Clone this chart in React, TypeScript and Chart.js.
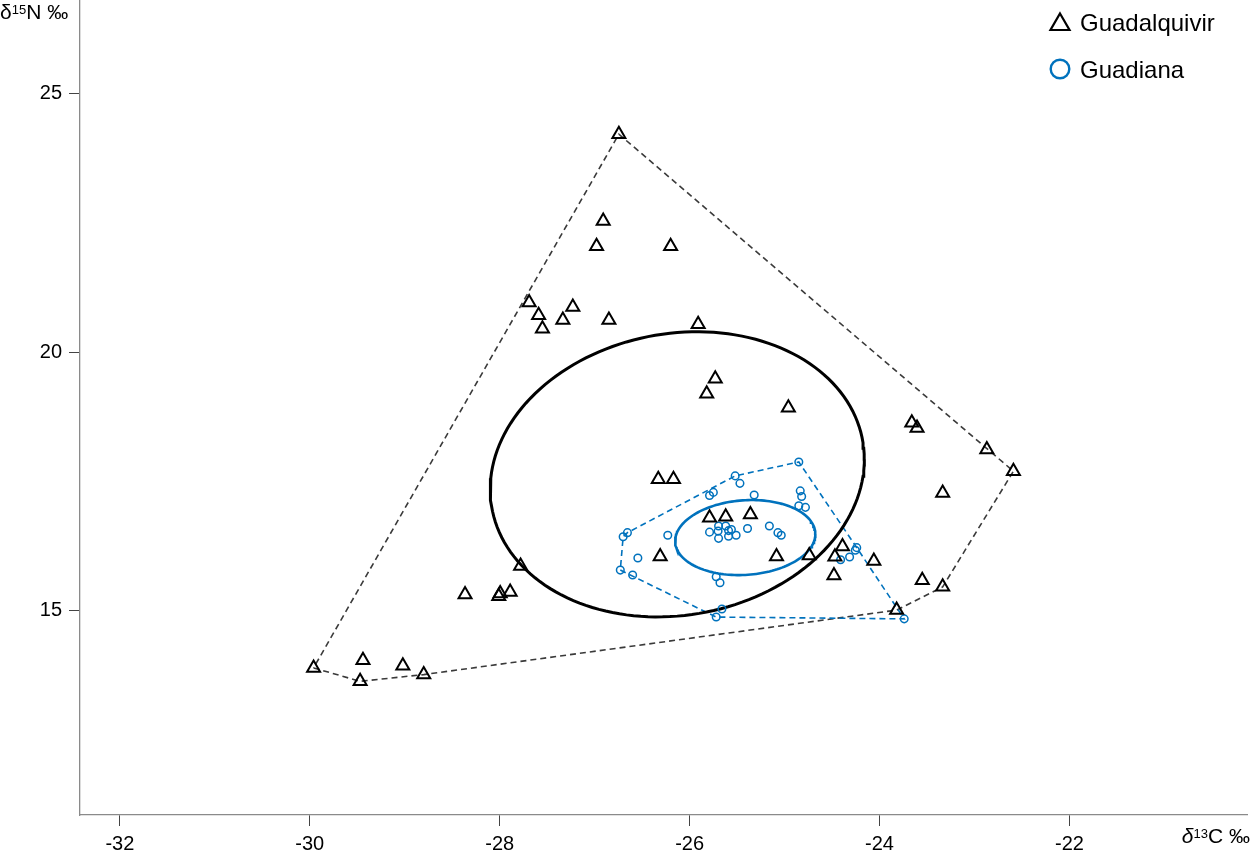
import React, { useEffect, useRef } from 'react';
import { Chart, registerables } from 'chart.js';

Chart.register(...registerables);

// ---------- data ----------
const seriesNames = ['Guadalquivir', 'Guadiana'];

const guadalquivirX = [
  -26.745, -26.91, -26.98, -26.2, -27.69, -27.23, -27.59, -27.335, -27.55, -26.85,
  -25.91, -25.73, -25.82, -24.96, -23.66, -23.605, -22.87, -22.59, -23.335, -26.33,
  -26.17, -25.79, -25.62, -25.36, -26.31, -25.085, -24.74, -24.39, -24.47, -24.48,
  -24.06, -23.55, -23.335, -23.82, -27.78, -28.365, -28.01, -27.995, -27.89, -29.96,
  -29.44, -29.47, -29.02, -28.8,
];
const guadalquivirY = [
  24.22, 22.54, 22.05, 22.05, 20.96, 20.87, 20.71, 20.62, 20.45, 20.62,
  20.54, 19.48, 19.19, 18.92, 18.63, 18.53, 18.11, 17.69, 17.27, 17.535,
  17.535, 16.79, 16.81, 16.85, 16.04, 16.04, 16.06, 16.23, 16.035, 15.67,
  15.95, 15.58, 15.45, 15.0, 15.855, 15.3, 15.27, 15.32, 15.35, 13.88,
  14.03, 13.62, 13.92, 13.75,
];

const guadianaX = [
  -24.85, -25.52, -25.47, -25.79, -25.75, -25.32, -24.835, -24.82, -24.85, -24.78,
  -26.655, -26.7, -26.23, -25.79, -25.7, -25.695, -25.62, -25.59, -25.56, -25.59,
  -25.695, -25.51, -25.39, -25.16, -25.07, -25.035, -26.545, -26.73, -26.6, -25.72,
  -25.68, -25.66, -25.72, -23.74, -24.24, -24.315, -24.41, -24.255,
];
const guadianaY = [
  17.87, 17.6, 17.455, 17.22, 17.28, 17.23, 17.31, 17.2, 17.02, 16.99,
  16.5, 16.42, 16.45, 16.51, 16.53, 16.63, 16.63, 16.54, 16.56, 16.43,
  16.39, 16.45, 16.58, 16.63, 16.5, 16.45, 16.01, 15.775, 15.68, 15.645,
  15.53, 15.02, 14.865, 14.83, 16.21, 16.03, 15.975, 16.16,
];

// standard ellipses: centre x, centre y, and the Cholesky factor of the covariance (l11, l21, l22)
const guadalquivirEllipse = [-26.13, 17.63, 1.97, 0.29, 2.747];
const guadianaEllipse = [-25.414, 16.405, 0.738, 0.068, 0.724];

const xTicks = [-32, -30, -28, -26, -24, -22];
const yTicks = [15, 20, 25];
const xRange = [-32.42, -20.13];
const yRange = [11.03, 26.82];

// ---------- styles ----------
const BLACK = '#000000';
const HULL_BLACK = '#3a3a3a';
const BLUE = '#0072BD';
const FONT = '"Liberation Sans", Arial, Helvetica, sans-serif';

type P = { x: number; y: number };

function toPoints(xs: number[], ys: number[]): P[] {
  return xs.map((x, i) => ({ x, y: ys[i] }));
}

function convexHull(pts: P[]): P[] {
  const p = [...pts].sort((a, b) => a.x - b.x || a.y - b.y);
  const cross = (o: P, a: P, b: P) => (a.x - o.x) * (b.y - o.y) - (a.y - o.y) * (b.x - o.x);
  const lower: P[] = [];
  for (const q of p) {
    while (lower.length >= 2 && cross(lower[lower.length - 2], lower[lower.length - 1], q) <= 0) lower.pop();
    lower.push(q);
  }
  const upper: P[] = [];
  for (let i = p.length - 1; i >= 0; i--) {
    const q = p[i];
    while (upper.length >= 2 && cross(upper[upper.length - 2], upper[upper.length - 1], q) <= 0) upper.pop();
    upper.push(q);
  }
  upper.pop();
  lower.pop();
  const h = lower.concat(upper);
  h.push(h[0]);
  return h;
}

function ellipsePoints(e: number[]): P[] {
  const [cx, cy, l11, l21, l22] = e;
  const n = 160;
  const out: P[] = [];
  for (let i = 0; i <= n; i++) {
    const t = (i / n) * Math.PI * 2;
    out.push({ x: cx + l11 * Math.cos(t), y: cy + l21 * Math.cos(t) + l22 * Math.sin(t) });
  }
  return out;
}

const legendPlugin = {
  id: 'cornerLegend',
  afterDraw(chart: any) {
    const ctx = chart.ctx as CanvasRenderingContext2D;
    ctx.save();
    // triangle marker
    const tx = 1060, ty = 24.5, r = 11;
    ctx.beginPath();
    ctx.moveTo(tx, ty - r);
    ctx.lineTo(tx + r * Math.sin((2 * Math.PI) / 3), ty - r * Math.cos((2 * Math.PI) / 3));
    ctx.lineTo(tx + r * Math.sin((4 * Math.PI) / 3), ty - r * Math.cos((4 * Math.PI) / 3));
    ctx.closePath();
    ctx.strokeStyle = BLACK;
    ctx.lineWidth = 2.2;
    ctx.stroke();
    // circle marker
    ctx.beginPath();
    ctx.arc(1060, 69, 9.3, 0, Math.PI * 2);
    ctx.strokeStyle = BLUE;
    ctx.lineWidth = 2.4;
    ctx.stroke();
    ctx.fillStyle = '#000';
    ctx.font = `24px ${FONT}`;
    ctx.textAlign = 'left';
    ctx.textBaseline = 'alphabetic';
    ctx.fillText(seriesNames[0], 1080, 30.5);
    ctx.fillText(seriesNames[1], 1080, 77.5);
    ctx.restore();
  },
};

export default function App() {
  const canvasRef = useRef<HTMLCanvasElement | null>(null);

  useEffect(() => {
    document.body.style.margin = '0';
    const canvas = canvasRef.current;
    if (!canvas) return;

    const gPts = toPoints(guadalquivirX, guadalquivirY);
    const bPts = toPoints(guadianaX, guadianaY);

    Chart.defaults.font.family = FONT;
    Chart.defaults.color = '#000';

    const chart = new Chart(canvas, {
      type: 'scatter',
      data: {
        datasets: [
          {
            label: seriesNames[0],
            data: gPts,
            pointStyle: 'triangle',
            pointRadius: 7.5,
            pointBorderWidth: 2,
            borderColor: BLACK,
            backgroundColor: 'rgba(0,0,0,0)',
            showLine: false,
          } as any,
          {
            label: seriesNames[1],
            data: bPts,
            pointStyle: 'circle',
            pointRadius: 3.8,
            pointBorderWidth: 1.5,
            borderColor: BLUE,
            backgroundColor: 'rgba(0,0,0,0)',
            showLine: false,
          } as any,
          {
            label: 'Guadiana SEA',
            data: ellipsePoints(guadianaEllipse),
            showLine: true,
            borderColor: BLUE,
            borderWidth: 2.6,
            pointRadius: 0,
            fill: false,
            tension: 0,
          } as any,
          {
            label: 'Guadalquivir SEA',
            data: ellipsePoints(guadalquivirEllipse),
            showLine: true,
            borderColor: BLACK,
            borderWidth: 3,
            pointRadius: 0,
            fill: false,
            tension: 0,
          } as any,
          {
            label: 'Guadiana hull',
            data: convexHull(bPts),
            showLine: true,
            borderColor: BLUE,
            borderWidth: 1.6,
            borderDash: [6, 4],
            pointRadius: 0,
            fill: false,
          } as any,
          {
            label: 'Guadalquivir hull',
            data: convexHull(gPts),
            showLine: true,
            borderColor: HULL_BLACK,
            borderWidth: 1.6,
            borderDash: [6, 4],
            pointRadius: 0,
            fill: false,
          } as any,
        ],
      },
      options: {
        animation: false,
        responsive: true,
        maintainAspectRatio: false,
        layout: { autoPadding: false, padding: { top: 0, right: 3, bottom: 0, left: 0 } },
        plugins: {
          legend: { display: false },
          tooltip: { enabled: false },
          title: { display: false },
        },
        scales: {
          x: {
            type: 'linear',
            min: xRange[0],
            max: xRange[1],
            afterBuildTicks: (scale: any) => {
              scale.ticks = xTicks.map((v) => ({ value: v }));
            },
            afterFit: (scale: any) => {
              scale.height = 37;
              scale.paddingLeft = 0;
              scale.paddingRight = 0;
            },
            ticks: {
              font: { size: 20 },
              color: '#000',
              padding: 6,
              maxRotation: 0,
              callback: (v: any) => String(v),
            },
            grid: {
              display: true,
              drawOnChartArea: false,
              drawTicks: true,
              tickLength: 11,
              tickColor: '#444',
              tickWidth: 1,
            },
            border: { display: true, color: '#8a8a8a', width: 1.3 },
          },
          y: {
            type: 'linear',
            min: yRange[0],
            max: yRange[1],
            afterBuildTicks: (scale: any) => {
              scale.ticks = yTicks.map((v) => ({ value: v }));
            },
            afterFit: (scale: any) => {
              scale.width = 80;
              scale.paddingTop = 0;
              scale.paddingBottom = 0;
            },
            ticks: {
              font: { size: 20 },
              color: '#000',
              padding: 7,
              callback: (v: any) => String(v),
            },
            grid: {
              display: true,
              drawOnChartArea: false,
              drawTicks: true,
              tickLength: 11,
              tickColor: '#444',
              tickWidth: 1,
            },
            border: { display: true, color: '#8a8a8a', width: 1.3 },
          },
        },
      } as any,
      plugins: [legendPlugin],
    });

    return () => {
      chart.destroy();
    };
  }, []);

  return (
    <div style={{ position: 'relative', width: 1250, height: 852, fontFamily: FONT, background: '#fff' }}>
      <canvas ref={canvasRef} width={1250} height={852} />
      <div
        style={{
          position: 'absolute',
          left: 0,
          top: 0,
          fontSize: 21,
          lineHeight: '24px',
          whiteSpace: 'nowrap',
          color: '#000',
        }}
      >
        δ<span style={{ fontSize: 13, position: 'relative', top: -5 }}>15</span>N ‰
      </div>
      <div
        style={{
          position: 'absolute',
          right: 0,
          top: 824,
          fontSize: 21,
          lineHeight: '24px',
          whiteSpace: 'nowrap',
          color: '#000',
        }}
      >
        <i>δ</i>
        <span style={{ fontSize: 13, position: 'relative', top: -5 }}>13</span>C ‰
      </div>
    </div>
  );
}
